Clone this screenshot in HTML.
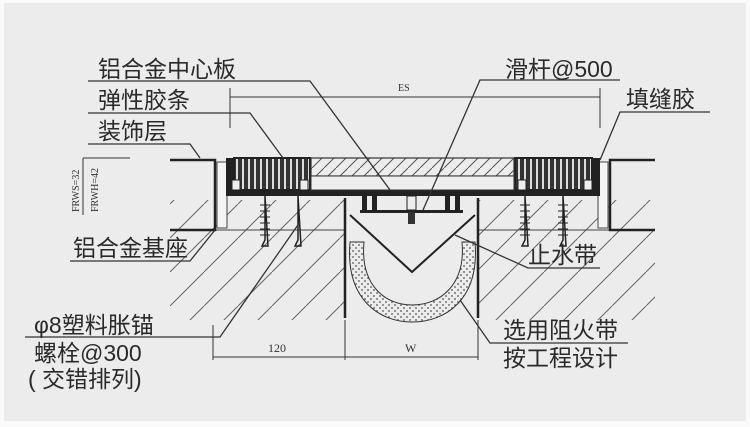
<!DOCTYPE html>
<html><head><meta charset="utf-8"><style>
html,body{margin:0;padding:0;background:#fafafa}
svg{display:block}
text{font-family:"Liberation Sans","Noto Sans CJK SC",sans-serif;fill:#2a2a2a}
.s{font-family:"Liberation Serif",serif;fill:#333}
</style></head><body>
<svg width="750" height="427" viewBox="0 0 750 427">
<defs>
<pattern id="hat" patternUnits="userSpaceOnUse" width="34" height="34">
<path d="M-2,36 L36,-2" stroke="#444" stroke-width="1"/>
</pattern>
<pattern id="hat2" patternUnits="userSpaceOnUse" width="12" height="12">
<path d="M-1,13 L13,-1" stroke="#555" stroke-width="1"/>
</pattern>
<pattern id="dots" patternUnits="userSpaceOnUse" width="6" height="6">
<circle cx="2" cy="2" r="0.9" fill="#555"/><circle cx="5" cy="5" r="0.9" fill="#555"/>
</pattern>
<pattern id="rub" patternUnits="userSpaceOnUse" width="6" height="10">
<rect width="6" height="10" fill="#333"/><rect x="2" width="2" height="10" fill="#ddd"/>
</pattern>
</defs>
<rect x="0" y="0" width="750" height="427" fill="#fafafa"/>
<rect x="4" y="3" width="742" height="418" fill="#ececec"/>

<rect x="170" y="200" width="175" height="120" fill="url(#hat)" opacity="0.8"/>
<rect x="478" y="200" width="177" height="120" fill="url(#hat)" opacity="0.8"/>
<g stroke="#444" stroke-width="1">
<line x1="170" y1="230" x2="345" y2="230"/>
<line x1="478" y1="230" x2="655" y2="230"/>
</g>

<g stroke="#222" stroke-width="2.5" fill="none">
<path d="M170,160 H215 V230 H170"/>
<path d="M655,160 H610 V230 H655"/>
<line x1="345" y1="198" x2="345" y2="318"/>
<line x1="478" y1="198" x2="478" y2="318"/>
</g>
<rect x="217" y="162" width="10" height="66" fill="#f4f4f4" stroke="#444"/>
<rect x="598" y="162" width="10" height="66" fill="#f4f4f4" stroke="#444"/>

<rect x="226" y="190" width="374" height="6" fill="#222"/>
<rect x="226" y="158" width="8" height="36" fill="#222"/>
<rect x="592" y="158" width="8" height="36" fill="#222"/>
<rect x="234" y="158" width="76" height="32" fill="url(#rub)" stroke="#222" stroke-width="2"/>
<rect x="515" y="158" width="77" height="32" fill="url(#rub)" stroke="#222" stroke-width="2"/>
<rect x="232" y="180" width="8" height="10" fill="#eee" stroke="#222"/>
<rect x="300" y="180" width="8" height="10" fill="#eee" stroke="#222"/>
<rect x="518" y="180" width="8" height="10" fill="#eee" stroke="#222"/>
<rect x="584" y="180" width="8" height="10" fill="#eee" stroke="#222"/>
<rect x="311" y="158" width="203" height="18" fill="url(#hat2)" stroke="#333" stroke-width="1.2"/>
<rect x="311" y="176" width="203" height="14" fill="#eee" stroke="#333" stroke-width="1"/>
<g fill="#222">
<rect x="362" y="196" width="5" height="16"/><rect x="372" y="196" width="5" height="16"/>
<rect x="445" y="196" width="5" height="16"/><rect x="455" y="196" width="5" height="16"/>
<rect x="360" y="210" width="103" height="3"/>
</g>
<rect x="407" y="196" width="9" height="14" fill="#eee" stroke="#222"/>
<rect x="408" y="212" width="7" height="12" fill="#333"/>

<path d="M350,242 C345,300 380,322 412,322 C445,322 480,300 475,242 L462,242 C466,285 440,305 412,305 C385,305 360,285 364,242 Z" fill="url(#dots)" stroke="#333" stroke-width="1"/>
<polyline points="350,215 412,272 475,215" fill="none" stroke="#222" stroke-width="2"/>

<g stroke="#222" stroke-width="1.5" fill="none">
<path d="M265,196 V240 L262,246 L268,246 Z"/>
<path d="M298,196 V240 L295,246 L301,246 Z"/>
<path d="M525,196 V240 L522,246 L528,246 Z"/>
<path d="M563,196 V240 L560,246 L566,246 Z"/>
</g>
<g stroke="#222" stroke-width="1">
<path d="M260,205h10M260,211h10M260,217h10M260,223h10M260,229h10M260,235h10"/>
<path d="M520,205h10M520,211h10M520,217h10M520,223h10M520,229h10M520,235h10"/>
<path d="M558,205h10M558,211h10M558,217h10M558,223h10M558,229h10M558,235h10"/>
</g>

<g stroke="#333" stroke-width="1" fill="none">
<line x1="230" y1="97" x2="600" y2="97"/>
<line x1="230" y1="88" x2="230" y2="128"/>
<line x1="600" y1="88" x2="600" y2="128"/>
<line x1="213" y1="357" x2="478" y2="357"/>
<line x1="213" y1="325" x2="213" y2="360"/>
<line x1="345" y1="320" x2="345" y2="360"/>
<line x1="478" y1="320" x2="478" y2="360"/>
<line x1="83" y1="158" x2="130" y2="158"/>
<line x1="83" y1="158" x2="83" y2="215"/>
</g>
<text class="s" x="398" y="91" font-size="10">ES</text>
<text class="s" x="268" y="352" font-size="12">120</text>
<text class="s" x="405" y="352" font-size="12">W</text>
<text class="s" transform="translate(79,212) rotate(-90)" font-size="10">FRWS=32</text>
<text class="s" transform="translate(98,212) rotate(-90)" font-size="10">FRWH=42</text>

<g stroke="#333" stroke-width="1.3" fill="none">
<polyline points="88,81 310,81 390,190"/>
<polyline points="88,113 250,113 283,158"/>
<polyline points="88,144 190,144 200,158"/>
<polyline points="620,80 480,80 423,210"/>
<polyline points="710,112 620,112 600,160"/>
<polyline points="70,261 190,261 215,230"/>
<polyline points="25,337 220,337 300,222"/>
<polyline points="600,268 528,268 455,235"/>
<polyline points="628,343 490,343 460,300"/>
</g>

<g font-size="23">
<text x="98" y="77">铝合金中心板</text>
<text x="98" y="108">弹性胶条</text>
<text x="98" y="139">装饰层</text>
<text x="505" y="77">滑杆@500</text>
<text x="626" y="107">填缝胶</text>
<text x="73" y="256">铝合金基座</text>
<text x="528" y="263">止水带</text>
<text x="34" y="333">φ8塑料胀锚</text>
<text x="34" y="361">螺栓@300</text>
<text x="28" y="387">( 交错排列)</text>
<text x="503" y="338">选用阻火带</text>
<text x="503" y="366">按工程设计</text>
</g>
</svg>
</body></html>
